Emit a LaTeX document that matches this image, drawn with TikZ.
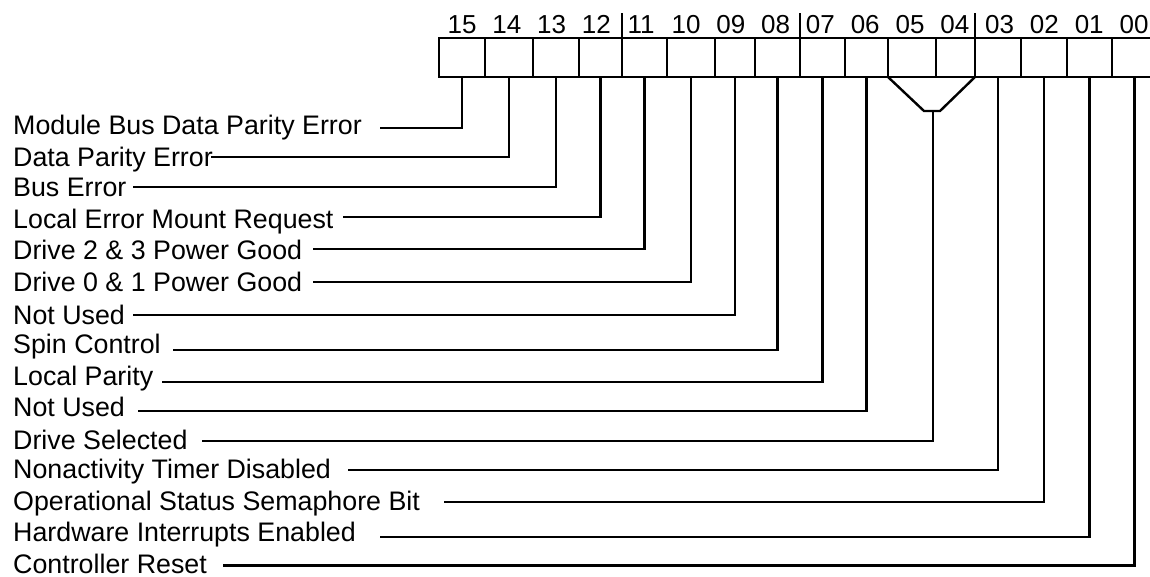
\documentclass[tikz,border=0pt]{standalone}
\usepackage{fontspec}
\setmainfont{Liberation Sans}
\begin{document}
\begin{tikzpicture}[x=1pt,y=-1pt,
  wire/.style={line width=2.4pt},
  cell/.style={draw,line width=2.4pt,minimum height=39pt,inner sep=0pt,outer sep=0pt,anchor=north west},
  bitlabel/.style={anchor=base west,inner sep=0pt,font=\fontsize{26.8}{30}\selectfont},
  bitnum/.style={anchor=base,inner sep=0pt,font=\fontsize{26}{30}\selectfont}]
\useasboundingbox (0,0) rectangle (1150,577);
\clip (0,0) rectangle (1150,577);

% register cells, bit 15 on the left
\node[cell,minimum width=46pt] (c15) at (439,38) {};
\node[cell,minimum width=48pt] (c14) at (485,38) {};
\node[cell,minimum width=46pt] (c13) at (533,38) {};
\node[cell,minimum width=43pt] (c12) at (579,38) {};
\node[cell,minimum width=45pt] (c11) at (622,38) {};
\node[cell,minimum width=48pt] (c10) at (667,38) {};
\node[cell,minimum width=40pt] (c09) at (715,38) {};
\node[cell,minimum width=45pt] (c08) at (755,38) {};
\node[cell,minimum width=45pt] (c07) at (800,38) {};
\node[cell,minimum width=43pt] (c06) at (845,38) {};
\node[cell,minimum width=48pt] (c05) at (888,38) {};
\node[cell,minimum width=39pt] (c04) at (936,38) {};
\node[cell,minimum width=46pt] (c03) at (975,38) {};
\node[cell,minimum width=46pt] (c02) at (1021,38) {};
\node[cell,minimum width=45pt] (c01) at (1067,38) {};
\node[cell,minimum width=45pt] (c00) at (1112,38) {};

% nibble separators
\draw[wire] (c11.north west) -- ++(0,-25);
\draw[wire] (c07.north west) -- ++(0,-25);
\draw[wire] (c03.north west) -- ++(0,-25);

% bit numbers
\foreach \n [count=\k from 0] in {15,14,13,12,11,10,09,08,07,06,05,04,03,02,01,00}
  \node[bitnum] (n\n) at ({462+44.8*\k},33.3) {\n};

% bits 05 and 04 combined
\coordinate (m54) at (933,111);
\draw[wire] (c05.south west) -- (924,111) -- (940,111) -- (c04.south east);

% field descriptions
\node[bitlabel] (l15) at (13,135)   {Module Bus Data Parity Error};
\node[bitlabel] (l14) at (13,166.7) {Data Parity Error};
\node[bitlabel] (l13) at (13,196.7) {Bus Error};
\node[bitlabel] (l12) at (13,228.3) {Local Error Mount Request};
\node[bitlabel] (l11) at (13,259.3) {Drive 2 \& 3 Power Good};
\node[bitlabel] (l10) at (13,291)   {Drive 0 \& 1 Power Good};
\node[bitlabel] (l09) at (13,324.3) {Not Used};
\node[bitlabel] (l08) at (13,353.3) {Spin Control};
\node[bitlabel] (l07) at (13,385.7) {Local Parity};
\node[bitlabel] (l06) at (13,416.7) {Not Used};
\node[bitlabel] (l54) at (13,449.3) {Drive Selected};
\node[bitlabel] (l03) at (13,478.3) {Nonactivity Timer Disabled};
\node[bitlabel] (l02) at (13,510)   {Operational Status Semaphore Bit};
\node[bitlabel] (l01) at (13,541.7) {Hardware Interrupts Enabled};
\node[bitlabel] (l00) at (13,573.3) {Controller Reset};

% leader start points
\coordinate (s15) at (380,128);
\coordinate (s14) at (211,157.3);
\coordinate (s13) at (133,187.3);
\coordinate (s12) at (343,217.3);
\coordinate (s11) at (313,249.3);
\coordinate (s10) at (313,282);
\coordinate (s09) at (133,315);
\coordinate (s08) at (173,350);
\coordinate (s07) at (162,381.7);
\coordinate (s06) at (138,410.7);
\coordinate (s54) at (202,440.7);
\coordinate (s03) at (348,470);
\coordinate (s02) at (444,501.7);
\coordinate (s01) at (380,536.7);
\coordinate (s00) at (223,565.3);

% leaders
\draw[wire] (s15) -| (c15.south);
\draw[wire] (s14) -| (c14.south);
\draw[wire] (s13) -| (c13.south);
\draw[wire] (s12) -| (c12.south);
\draw[wire] (s11) -| (c11.south);
\draw[wire] (s10) -| (c10.south);
\draw[wire] (s09) -| (c09.south);
\draw[wire] (s08) -| (c08.south);
\draw[wire] (s07) -| (c07.south);
\draw[wire] (s06) -| (c06.south);
\draw[wire] (s54) -| (m54);
\draw[wire] (s03) -| (c03.south);
\draw[wire] (s02) -| (c02.south);
\draw[wire] (s01) -| (c01.south);
\draw[wire] (s00) -| (c00.south);
\end{tikzpicture}
\end{document}
